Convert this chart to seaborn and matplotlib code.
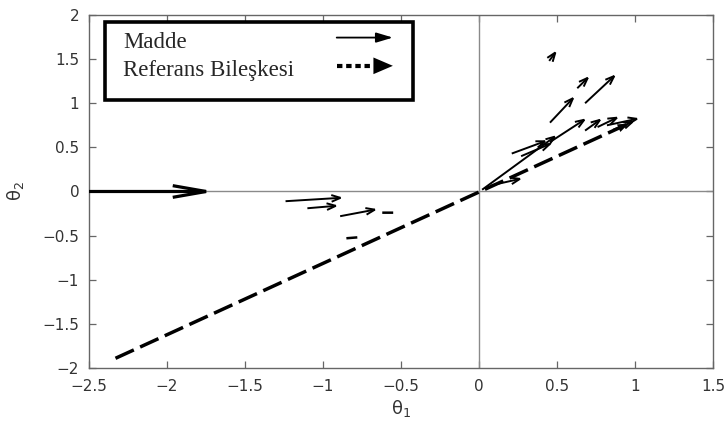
import matplotlib
matplotlib.use("Agg")
import numpy as np
import matplotlib.pyplot as plt
from matplotlib.patches import FancyArrowPatch, Rectangle
import seaborn as sns

# Item vectors (Madde): tail and head coordinates in the theta plane
item_x0 = [-2.50, -1.24, -1.10, -0.89, -0.62, -0.85,
           0.45, 0.63, 0.68, 0.455, 0.02, 0.455, 0.21, 0.27,
           0.68, 0.76, 0.82, 0.86, 0.08]
item_y0 = [0.00, -0.11, -0.19, -0.28, -0.24, -0.53,
           1.48, 1.17, 1.00, 0.78, 0.02, 0.56, 0.43, 0.40,
           0.69, 0.73, 0.75, 0.70, 0.07]
item_x1 = [-1.69, -0.87, -0.90, -0.65, -0.55, -0.78,
           0.50, 0.71, 0.88, 0.615, 0.50, 0.69, 0.44, 0.47,
           0.79, 0.90, 1.03, 1.00, 0.28]
item_y1 = [0.00, -0.07, -0.16, -0.20, -0.24, -0.52,
           1.60, 1.31, 1.33, 1.08, 0.64, 0.83, 0.58, 0.55,
           0.83, 0.85, 0.83, 0.80, 0.15]

# Reference composite direction (Referans Bileşkesi)
comp_x = [-2.33, 0.96]
comp_y = [-1.89, 0.77]

x_ticks = [-2.5, -2, -1.5, -1, -0.5, 0, 0.5, 1, 1.5]
y_ticks = [-2, -1.5, -1, -0.5, 0, 0.5, 1, 1.5, 2]
x_tick_labels = ["\u22122.5", "\u22122", "\u22121.5", "\u22121", "\u22120.5", "0", "0.5", "1", "1.5"]
y_tick_labels = ["\u22122", "\u22121.5", "\u22121", "\u22120.5", "0", "0.5", "1", "1.5", "2"]

legend_labels = ["Madde", "Referans Bileşkesi"]

sns.set_style("white")
plt.rcParams["font.family"] = ["DejaVu Sans"]
plt.rcParams["mathtext.fontset"] = "dejavusans"

fig = plt.figure(figsize=(7.24, 4.21), dpi=100)
ax = fig.add_axes([0.1229, 0.1259, 0.8619, 0.8385])

ax.set_xlim(-2.5, 1.5)
ax.set_ylim(-2, 2)

# coordinate axes through the origin
ax.axhline(0, color="#8a8a8a", lw=1.0, zorder=1)
ax.axvline(0, color="#8a8a8a", lw=1.0, zorder=1)

# composite direction: dashed shaft plus filled head
sns.lineplot(x=comp_x, y=comp_y, ax=ax, color="black", lw=2.5,
             linestyle=(0, (5.8, 2.0)), sort=False, zorder=3)
ax.annotate("", xy=(comp_x[1], comp_y[1]), xytext=(comp_x[0], comp_y[0]),
            arrowprops=dict(arrowstyle="-|>,head_length=0.8,head_width=0.3",
                            lw=0, color="black", shrinkA=0, shrinkB=0,
                            mutation_scale=10), zorder=3)

# item vectors; very short ones show only their shaft
for i, (x0, y0, x1, y1) in enumerate(zip(item_x0, item_y0, item_x1, item_y1)):
    p0 = ax.transData.transform((x0, y0))
    p1 = ax.transData.transform((x1, y1))
    length_px = np.hypot(*(p1 - p0))
    if i == 0:
        style = "->,head_length=2.4,head_width=0.42"
        lw = 2.3
    elif length_px < 12:
        style = "-"
        lw = 1.8
    else:
        style = "->,head_length=0.65,head_width=0.24"
        lw = 1.4
    ax.add_patch(FancyArrowPatch((x0, y0), (x1, y1), arrowstyle=style,
                                 mutation_scale=10, lw=lw, color="black",
                                 shrinkA=0, shrinkB=0, zorder=4,
                                 joinstyle="miter", capstyle="butt"))

ax.set_xticks(x_ticks)
ax.set_xticklabels(x_tick_labels)
ax.set_yticks(y_ticks)
ax.set_yticklabels(y_tick_labels)
ax.tick_params(direction="in", length=5, width=0.9, color="#666666",
               labelsize=11, labelcolor="#333333", top=True, right=True,
               bottom=True, left=True)
ax.tick_params(axis="x", pad=8)
ax.tick_params(axis="y", pad=7)
for s in ax.spines.values():
    s.set_color("#666666")
    s.set_linewidth(1.0)

ax.set_xlabel("\u03b8$_1$", fontsize=13, color="#333333", labelpad=3)
ax.set_ylabel("\u03b8$_2$", fontsize=13, color="#333333", labelpad=12)

# legend box with arrow keys
ax.add_patch(Rectangle((0.0256, 0.759), 0.4936, 0.221, transform=ax.transAxes,
                       facecolor="white", edgecolor="black", lw=2.6, zorder=6))
ax.text(0.0545, 0.923, legend_labels[0], transform=ax.transAxes, fontsize=16.5,
        family="Liberation Serif", va="center", ha="left", zorder=7)
ax.text(0.0545, 0.844, legend_labels[1], transform=ax.transAxes, fontsize=16.5,
        family="Liberation Serif", va="center", ha="left", zorder=7)
ax.add_patch(FancyArrowPatch((0.397, 0.936), (0.487, 0.936), transform=ax.transAxes,
                             arrowstyle="-|>,head_length=1.0,head_width=0.3",
                             mutation_scale=10, lw=1.3, color="black",
                             shrinkA=0, shrinkB=0, zorder=7))
ax.plot([0.397, 0.455], [0.856, 0.856], transform=ax.transAxes, color="black",
        lw=3.0, linestyle=(0, (1.3, 0.9)), zorder=7)
ax.add_patch(FancyArrowPatch((0.45, 0.856), (0.487, 0.856), transform=ax.transAxes,
                             arrowstyle="-|>,head_length=1.4,head_width=0.6",
                             mutation_scale=10, lw=0, color="black",
                             shrinkA=0, shrinkB=0, zorder=7))

fig.savefig("out.png", dpi=100)
